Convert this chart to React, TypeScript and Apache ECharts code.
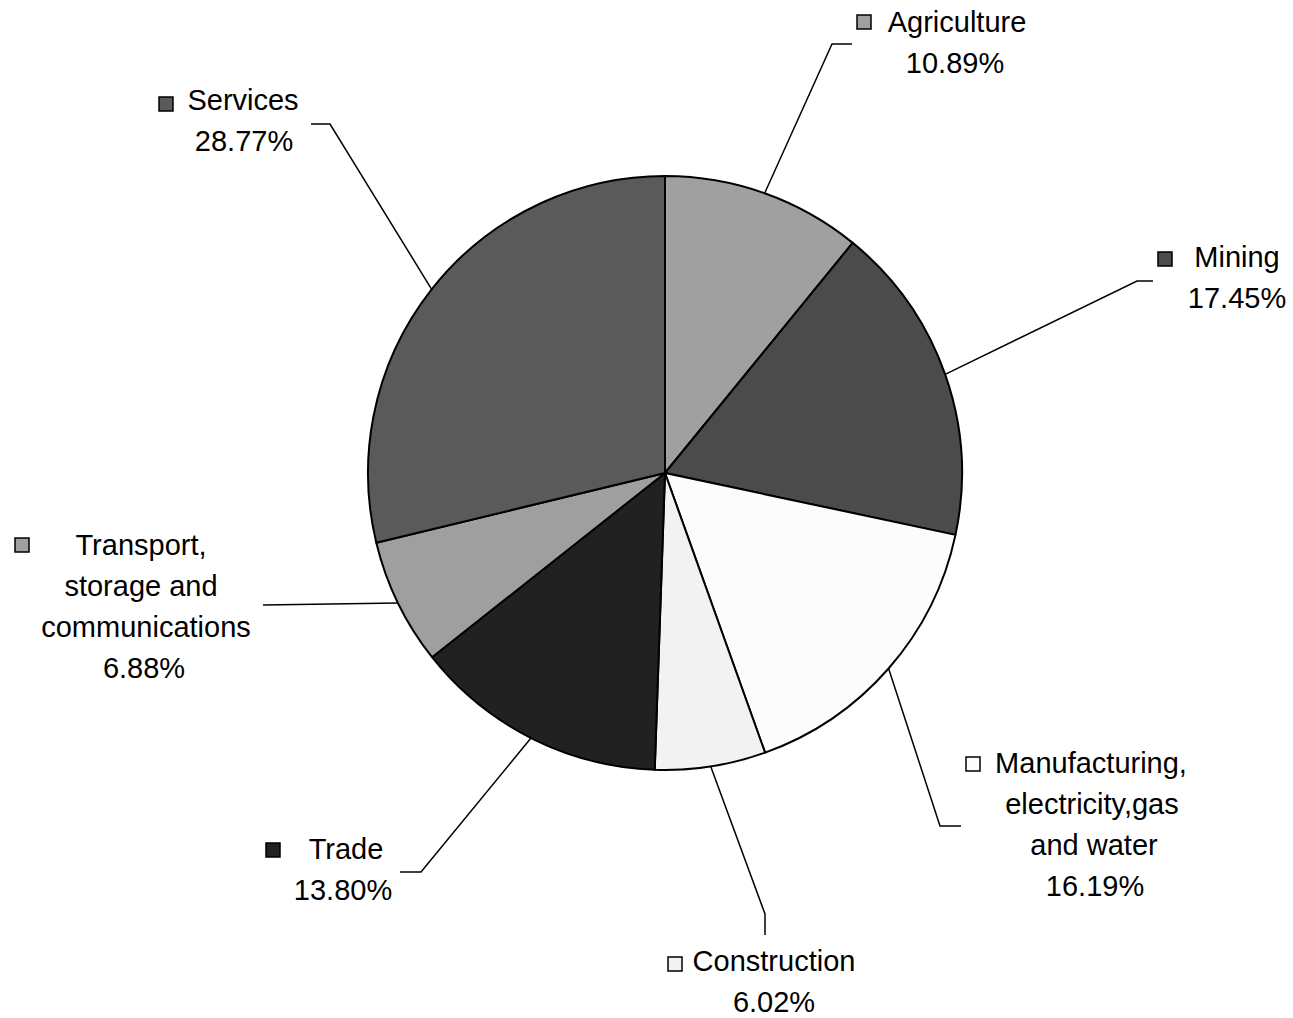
import React, { useEffect, useRef } from "react";
import * as echarts from "echarts";

// ---- Data ----
const categories = [
  "Agriculture",
  "Mining",
  "Manufacturing, electricity,gas and water",
  "Construction",
  "Trade",
  "Transport, storage and communications",
  "Services",
];
const values = [10.89, 17.45, 16.19, 6.02, 13.8, 6.88, 28.77];
const nameLines = [
  ["Agriculture"],
  ["Mining"],
  ["Manufacturing,", "electricity,gas", "and water"],
  ["Construction"],
  ["Trade"],
  ["Transport,", "storage and", "communications"],
  ["Services"],
];
const colors = ["#a0a0a0", "#4b4b4b", "#fcfcfc", "#f2f2f2", "#212121", "#9f9f9f", "#5a5a5a"];

// ---- Layout (positions, not data) ----
const CENTER = [665, 473];
const RADIUS = 297;
const FONT_SIZE = 29;
const LINE_GAP = 41;
const labelLayout = [
  { square: [857, 15], lineX: [957], y0: 22, pctX: 955, elbow: [[832, 44], [852, 44]] },
  { square: [1158, 252], lineX: [1237], y0: 257, pctX: 1237, elbow: [[1137, 281], [1153, 281]] },
  { square: [966, 757], lineX: [1091, 1092, 1094], y0: 763, pctX: 1095, elbow: [[940, 826], [961, 826]] },
  { square: [668, 957], lineX: [774], y0: 961, pctX: 774, elbow: [[765, 914], [765, 935]] },
  { square: [266, 843], lineX: [346], y0: 849, pctX: 343, elbow: [[421, 872], [400, 872]] },
  { square: [15, 538], lineX: [141, 141, 146], y0: 545, pctX: 144, elbow: [[263, 605]] },
  { square: [159, 97], lineX: [243], y0: 100, pctX: 244, elbow: [[330, 124], [311, 124]] },
];

const FONT_FAMILY = '"Liberation Sans", Arial, Helvetica, sans-serif';

export default function App() {
  const ref = useRef<HTMLDivElement>(null);

  useEffect(() => {
    document.body.style.margin = "0";
    document.body.style.overflow = "hidden";
    if (!ref.current) return;
    const chart = echarts.init(ref.current, null, { renderer: "svg" });

    const total = values.reduce((a, b) => a + b, 0);
    const graphics: any[] = [];
    let cum = 0;
    values.forEach((v, i) => {
      const mid = (cum + v / 2) / total;
      cum += v;
      const ang = mid * Math.PI * 2; // clockwise from top
      const ex = CENTER[0] + RADIUS * Math.sin(ang);
      const ey = CENTER[1] - RADIUS * Math.cos(ang);
      const L = labelLayout[i];
      graphics.push({
        type: "polyline",
        silent: true,
        shape: { points: [[ex, ey], ...L.elbow] },
        style: { stroke: "#000", lineWidth: 1.5, fill: null },
        z: 10,
      });
      graphics.push({
        type: "rect",
        silent: true,
        shape: { x: L.square[0], y: L.square[1], width: 14, height: 14 },
        style: { fill: colors[i], stroke: "#000", lineWidth: 1.5 },
        z: 10,
      });
      const lines = nameLines[i];
      lines.forEach((t, j) => {
        graphics.push({
          type: "text",
          silent: true,
          x: L.lineX[j],
          y: L.y0 + j * LINE_GAP,
          style: {
            text: t,
            fill: "#000",
            fontSize: FONT_SIZE,
            fontFamily: FONT_FAMILY,
            align: "center",
            verticalAlign: "middle",
          },
          z: 10,
        });
      });
      graphics.push({
        type: "text",
        silent: true,
        x: L.pctX,
        y: L.y0 + lines.length * LINE_GAP,
        style: {
          text: v.toFixed(2) + "%",
          fill: "#000",
          fontSize: FONT_SIZE,
          fontFamily: FONT_FAMILY,
          align: "center",
          verticalAlign: "middle",
        },
        z: 10,
      });
    });

    chart.setOption({
      animation: false,
      backgroundColor: "#ffffff",
      series: [
        {
          type: "pie",
          center: CENTER,
          radius: RADIUS,
          startAngle: 90,
          clockwise: true,
          label: { show: false },
          labelLine: { show: false },
          emphasis: { disabled: true },
          itemStyle: { borderColor: "#000", borderWidth: 2 },
          data: categories.map((name, i) => ({
            name,
            value: values[i],
            itemStyle: { color: colors[i] },
          })),
        },
      ],
      graphic: graphics,
    });

    return () => chart.dispose();
  }, []);

  return <div ref={ref} style={{ width: 1293, height: 1018 }} />;
}
